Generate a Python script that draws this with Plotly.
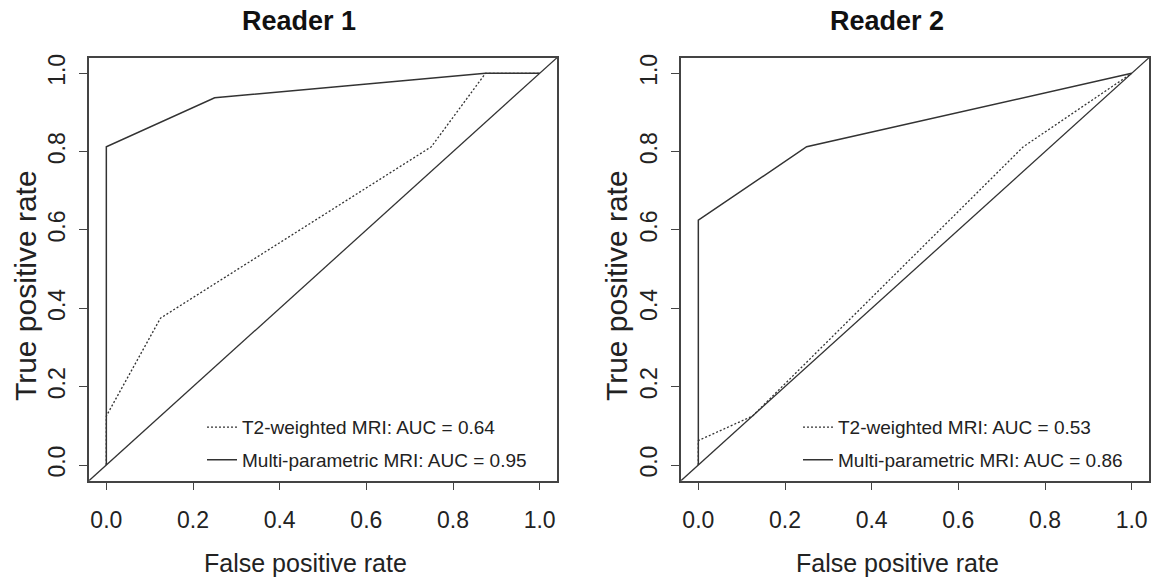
import plotly.graph_objects as go

# ---- data ----
r1_t2_fpr = [0.0, 0.0, 0.125, 0.75, 0.875, 1.0]
r1_t2_tpr = [0.0, 0.125, 0.375, 0.8125, 1.0, 1.0]
r1_mp_fpr = [0.0, 0.0, 0.25, 0.875, 1.0]
r1_mp_tpr = [0.0, 0.8125, 0.9375, 1.0, 1.0]

r2_t2_fpr = [0.0, 0.0, 0.125, 0.75, 1.0]
r2_t2_tpr = [0.0, 0.0625, 0.125, 0.8125, 1.0]
r2_mp_fpr = [0.0, 0.0, 0.25, 1.0]
r2_mp_tpr = [0.0, 0.625, 0.8125, 1.0]

diag = [-0.04, 1.04]
titles = ["Reader 1", "Reader 2"]
legend_r1 = ["T2-weighted MRI: AUC = 0.64", "Multi-parametric MRI: AUC = 0.95"]
legend_r2 = ["T2-weighted MRI: AUC = 0.53", "Multi-parametric MRI: AUC = 0.86"]
tick_vals = [0.0, 0.2, 0.4, 0.6, 0.8, 1.0]
tick_text = ["0.0", "0.2", "0.4", "0.6", "0.8", "1.0"]

W, H = 1164, 583
FONT = "Liberation Sans, Arial, sans-serif"
LC = "#333333"

fig = go.Figure()

def add_panel(xa, ya, t2x, t2y, mpx, mpy, names, leg):
    fig.add_trace(go.Scatter(x=diag, y=diag, mode="lines", xaxis=xa, yaxis=ya,
                             line=dict(color=LC, width=1.3), showlegend=False, hoverinfo="skip"))
    fig.add_trace(go.Scatter(x=t2x, y=t2y, mode="lines", xaxis=xa, yaxis=ya, name=names[0],
                             legend=leg, legendgroup=leg + "a",
                             line=dict(color=LC, width=1.3, dash="2px,2px")))
    fig.add_trace(go.Scatter(x=mpx, y=mpy, mode="lines", xaxis=xa, yaxis=ya, name=names[1],
                             legend=leg, legendgroup=leg + "b",
                             line=dict(color=LC, width=1.5)))

add_panel("x", "y", r1_t2_fpr, r1_t2_tpr, r1_mp_fpr, r1_mp_tpr, legend_r1, "legend")
add_panel("x2", "y2", r2_t2_fpr, r2_t2_tpr, r2_mp_fpr, r2_mp_tpr, legend_r2, "legend2")

axis_common = dict(range=[-0.04, 1.04], showgrid=False, zeroline=False, showline=True,
                   linecolor="#444444", linewidth=1.5, mirror=True, ticks="outside",
                   ticklen=8, tickwidth=1.2, tickcolor="#444444",
                   tickvals=tick_vals, ticktext=tick_text,
                   tickfont=dict(family=FONT, size=23, color="#222222"))

ydom = [103 / H, 529 / H]
leg_font = dict(family=FONT, size=19, color="#222222")
fig.update_layout(
    width=W, height=H, autosize=False,
    margin=dict(l=0, r=0, t=0, b=0),
    paper_bgcolor="white", plot_bgcolor="white",
    xaxis=dict(domain=[89 / W, 557 / W], anchor="y", ticklabelstandoff=10, **axis_common),
    yaxis=dict(domain=ydom, anchor="x", tickangle=-90, ticklabelstandoff=5, **axis_common),
    xaxis2=dict(domain=[681 / W, 1149 / W], anchor="y2", ticklabelstandoff=10, **axis_common),
    yaxis2=dict(domain=ydom, anchor="x2", tickangle=-90, ticklabelstandoff=5, **axis_common),
    legend=dict(x=202 / W, y=(H - 407) / H, xanchor="left", yanchor="top",
                bgcolor="rgba(0,0,0,0)", borderwidth=0, tracegroupgap=5, font=leg_font),
    legend2=dict(x=798 / W, y=(H - 407) / H, xanchor="left", yanchor="top",
                 bgcolor="rgba(0,0,0,0)", borderwidth=0, tracegroupgap=5, font=leg_font),
)

ann = []
for cx, t in zip([299, 887], titles):
    ann.append(dict(text="<b>%s</b>" % t, x=cx / W, y=(H - 17) / H, xref="paper", yref="paper",
                    showarrow=False, xanchor="center", yanchor="middle",
                    font=dict(family=FONT, size=27, color="#111111")))
for cx in [305, 897]:
    ann.append(dict(text="False positive rate", x=cx / W, y=(H - 563) / H, xref="paper", yref="paper",
                    showarrow=False, xanchor="center", yanchor="middle",
                    font=dict(family=FONT, size=25, color="#222222")))
for cx in [25, 616]:
    ann.append(dict(text="True positive rate", x=cx / W, y=(H - 284) / H, xref="paper", yref="paper",
                    showarrow=False, xanchor="center", yanchor="middle", textangle=-90,
                    font=dict(family=FONT, size=30, color="#222222")))
fig.update_layout(annotations=ann)

fig.write_html("out.html", config={"displayModeBar": False},
               post_script="document.body.style.margin='0';document.body.style.overflow='hidden';")
